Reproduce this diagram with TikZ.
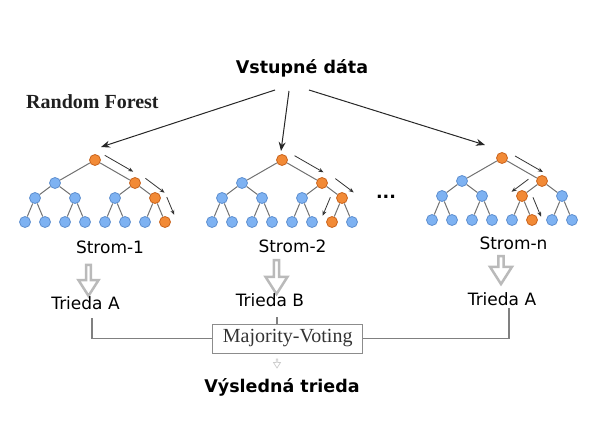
\documentclass[tikz,border=0pt]{standalone}
\usepackage{fontspec}
\newfontfamily\djv{DejaVu Sans}
\newfontfamily\tms{Liberation Serif}
\usetikzlibrary{arrows.meta,shapes.arrows}
\definecolor{leafblue}{HTML}{7EB2F2}
\definecolor{leafline}{HTML}{5E8FCF}
\definecolor{hotfill}{HTML}{F28A36}
\definecolor{hotline}{HTML}{C9641E}
\definecolor{edgegray}{HTML}{727272}
\begin{document}
\begin{tikzpicture}[x=1pt,y=-1pt,
  cold/.style={circle,fill=leafblue,draw=leafline,line width=0.8pt,minimum size=11pt,inner sep=0pt},
  hot/.style={cold,fill=hotfill,draw=hotline},
  branch/.style={draw=edgegray,line width=1pt},
  flow/.style={-{Stealth[length=5pt,width=4pt]},draw=black!80,line width=0.8pt},
  feed/.style={-{Stealth[length=9pt,width=7pt]},draw=black!85,line width=1pt},
  txt/.style={inner sep=0pt,anchor=base,font=\djv\fontsize{17}{20}\selectfont},
  headtxt/.style={txt,font=\djv\bfseries\fontsize{17.5}{20}\selectfont},
  hollow/.style={single arrow,draw=black!27,line width=2.5pt,fill=white,rotate=-90,inner sep=0pt,
    minimum height=31pt,minimum width=20pt,single arrow head extend=4pt,single arrow tip angle=65},
  wire/.style={draw=black!50,line width=1.2pt}]
\useasboundingbox (0,0) rectangle (592,444);
\node[headtxt] (vd) at (302,74) {Vstupné dáta};
\node[txt,anchor=base west,font=\tms\bfseries\fontsize{20}{24}\selectfont,text=black!88] (rf) at (26,109) {Random Forest};
\foreach \t/\rx/\ry/\a/\b/\c in {1/95/160/3/7/15,2/282/160/3/7/14,3/502/158/3/6/13}{
  \foreach \i/\dx/\dy in {1/0/0,2/-40/23,3/40/23,4/-60/38,5/-20/38,6/20/38,7/60/38,
    8/-70/62,9/-50/62,10/-30/62,11/-10/62,12/10/62,13/30/62,14/50/62,15/70/62}{
    \pgfmathtruncatemacro\onpath{(\i==1)||(\i==\a)||(\i==\b)||(\i==\c)}
    \ifnum\onpath=1 \def\kind{hot}\else\def\kind{cold}\fi
    \node[\kind] (t\t-\i) at (\rx+\dx,\ry+\dy) {};
  }
  \foreach \i in {2,...,15}{
    \pgfmathtruncatemacro\up{\i/2}
    \draw[branch] (t\t-\up) -- (t\t-\i);
  }
}
\foreach \t/\u/\v/\sx/\sy/\sh in {1/1/3/4/-8/6.7,1/3/7/10/-5/0.5,1/7/15/10.5/-4/3.3,
  2/1/3/7/-7.5/6.4,2/3/7/12.5/-5/1,2/7/14/-10.5/-3.5/3,
  3/1/3/7/-5.5/7,3/3/6/-12/-3/2,3/6/13/10/-1/2.5}
  \draw[flow,shorten <=\sh pt,shorten >=\sh pt] ([shift={(\sx,\sy)}]t\t-\u.center) -- ([shift={(\sx,\sy)}]t\t-\v.center);
\coordinate (s1) at (275,90);
\coordinate (s2) at (289,91);
\coordinate (s3) at (309,90);
\coordinate (e1) at (101,147);
\coordinate (e2) at (281,151);
\coordinate (e3) at (485,145);
\foreach \k in {1,2,3}
  \draw[feed] (s\k) -- (e\k);
\node[headtxt] (dots) at (386,198) {...};
\node[txt] (st1) at (110,253) {Strom-1};
\node[txt] (st2) at (292.5,252) {Strom-2};
\node[txt] (st3) at (513.5,249) {Strom-n};
\node[hollow] (h1) at (88.5,278.5) {};
\node[hollow,minimum height=34pt,minimum width=22pt] (h2) at (276.5,275) {};
\node[hollow,minimum height=28pt,minimum width=22pt] (h3) at (501,268) {};
\node[txt] (cl1) at (85.5,309) {Trieda A};
\node[txt] (cl2) at (270,306) {Trieda B};
\node[txt] (cl3) at (502,305) {Trieda A};
\node[draw=black!45,line width=0.9pt,minimum width=150pt,minimum height=29pt,inner sep=0pt,
  font=\tms\fontsize{20}{24}\selectfont,text=black!80] (mv) at (287.7,338.5) {Majority-Voting};
\draw[wire] ([xshift=6.5pt,yshift=-9pt]cl1.base) |- (mv.west);
\draw[wire] ([xshift=7pt,yshift=-11pt]cl2.base) -- ([xshift=7pt]cl2.base |- mv.north);
\draw[wire] ([xshift=7pt,yshift=-3pt]cl3.base) |- (mv.east);
\node[hollow,draw=black!20,line width=0.7pt,minimum height=9pt,minimum width=7pt,single arrow head extend=1.5pt] (vote) at (277,363) {};
\node[headtxt] (res) at (282,392) {Výsledná trieda};
\end{tikzpicture}
\end{document}
